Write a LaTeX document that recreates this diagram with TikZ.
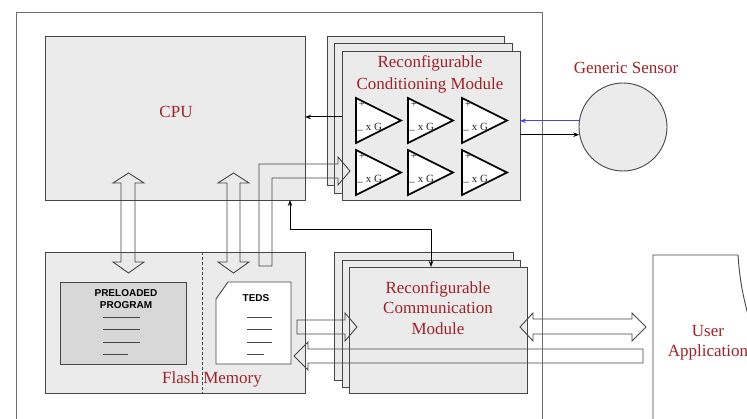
\documentclass[tikz,border=0pt]{standalone}
\usepackage{fontspec}
\setmainfont{Liberation Serif}
\newfontfamily\sansfam{Liberation Sans}
\usetikzlibrary{arrows.meta,calc}
\definecolor{redtxt}{RGB}{158,34,40}
\definecolor{linec}{RGB}{70,70,70}
\definecolor{framec}{RGB}{110,110,110}
\definecolor{boxfill}{RGB}{235,235,235}
\definecolor{progfill}{RGB}{216,216,216}
\definecolor{bluearr}{RGB}{70,70,210}
\begin{document}
\begin{tikzpicture}[x=1pt,y=-1pt,
  frame/.style={draw=framec,line width=1pt},
  box/.style={draw=linec,fill=boxfill,line width=0.9pt,inner sep=0pt,outer sep=0pt,anchor=north west},
  lbl/.style={text=redtxt,font=\fontsize{17}{21}\selectfont,align=center,inner sep=0pt},
  hollow/.style={draw=linec,line width=0.9pt,line join=miter},
  amp/.style={draw=black,line width=1.6pt,fill=white,line join=miter},
  amptxt/.style={font=\fontsize{11}{11}\selectfont,inner sep=0pt,text=black!85},
  thinarr/.style={draw=black,line width=1pt,{Stealth[length=6pt,width=4.5pt]}-{Stealth[length=6pt,width=4.5pt]}},
  onearr/.style={line width=1pt,-{Stealth[length=6pt,width=4.5pt]}},
  sanslbl/.style={font=\sansfam\bfseries\fontsize{10}{12}\selectfont,align=center,inner sep=0pt},
  docline/.style={draw=linec,line width=1pt}]
\useasboundingbox (0,0) rectangle (747,419);
\clip (0,0) rectangle (747,419);
\fill[white] (0,0) rectangle (747,419);

% outer frame
\draw[frame] (16,430) -- (16,13) -- (542,13) -- (542,430);

% CPU
\node[box,minimum width=260pt,minimum height=164pt] (cpu) at (45,36) {};
\node[lbl] (cpulbl) at (176,112) {CPU};

% Conditioning module stack
\node[box,minimum width=177pt,minimum height=149pt] (condc) at (327,36) {};
\node[box,minimum width=178pt,minimum height=150pt] (condb) at (334,43) {};
\node[box,minimum width=178pt,minimum height=149pt] (conda) at (342,51) {};
\node[lbl,font=\fontsize{17}{22}\selectfont] (condlbl) at (430,74) {Reconfigurable\\Conditioning Module};

% amplifiers
\foreach \x in {356,408,462}{
  \foreach \y in {98,150}{
    \draw[amp] (\x,\y) -- ++(0,45) -- ++(45,-22.5) -- cycle;
    \node[amptxt] (plus-\x-\y) at (\x+6,\y+6) {+};
    \node[amptxt] (gain-\x-\y) at (\x+18,\y+29) {x G};
    \node[amptxt] (minus-\x-\y) at (\x+4,\y+32) {\_};
  }
}

% sensor
\node[circle,draw=linec,fill=boxfill,line width=0.9pt,minimum size=88pt,inner sep=0pt] (sensor) at (623,127) {};
\node[lbl] (sensorlbl) at (626,68) {Generic Sensor};

% Flash memory
\node[box,minimum width=260pt,minimum height=141pt] (flash) at (45,252) {};
\draw[draw=linec,line width=0.9pt,densely dashed] (202,252) -- (202,393);
\node[lbl] (flashlbl) at (212,379) {Flash Memory};

% preloaded program
\node[box,fill=progfill,minimum width=126pt,minimum height=82pt] (prog) at (60,282) {};
\node[sanslbl] (proglbl) at (126,299) {PRELOADED\\PROGRAM};
\draw[docline] (103,318) -- (140,318) (103,330) -- (140,330) (103,343) -- (140,343) (103,355) -- (128,355);

% TEDS document
\draw[draw=linec,fill=white,line width=0.9pt,line join=miter] (216,299) -- (228,282) -- (291,282) -- (291,364) -- (216,364) -- cycle;
\node[sanslbl] (tedslbl) at (256,298) {TEDS};
\draw[docline] (247,318) -- (272,318) (247,330) -- (272,330) (247,343) -- (272,343) (247,355) -- (264,355);

% Communication module stack
\node[box,minimum width=179pt,minimum height=128pt] (commc) at (334,252) {};
\node[box,minimum width=178pt,minimum height=127pt] (commb) at (342,260) {};
\node[box,minimum width=178pt,minimum height=126pt] (comma) at (349,267) {};
\node[lbl,font=\fontsize{17}{20.5}\selectfont] (commlbl) at (438,308) {Reconfigurable\\Communication\\Module};

% User application
\draw[draw=linec,fill=white,line width=0.9pt] (653,430) -- (653,255) -- (738,255) .. controls (740,285) and (744,300) .. (752,330);
\node[lbl,font=\fontsize{17}{20}\selectfont] (userlbl) at (708,343) {User\\Application};

% hollow arrows CPU <-> Flash
\draw[hollow] (121,183) -- (113,183) -- (128.5,173) -- (144,183) -- (135,183) -- (135,262) -- (144,262) -- (128.5,273) -- (113,262) -- (121,262) -- cycle;
\draw[hollow] (227,183) -- (218,183) -- (233.5,173) -- (249,183) -- (240,183) -- (240,262) -- (249,262) -- (233.5,273) -- (218,262) -- (227,262) -- cycle;

% L-shaped hollow arrow Flash -> Conditioning
\draw[hollow] (259,266) -- (259,164) -- (338,164) -- (338,157) -- (350,171) -- (338,185) -- (338,178) -- (272,178) -- (272,266) -- cycle;

% TEDS -> Communication
\draw[hollow] (297,320) -- (345,320) -- (345,313) -- (357,327) -- (345,341) -- (345,334) -- (297,334) -- cycle;

% User -> Flash
\draw[hollow] (643,349) -- (308,349) -- (308,342) -- (294,356) -- (308,370) -- (308,363) -- (643,363) -- cycle;

% Communication <-> User
\draw[hollow] (533,319) -- (632,319) -- (632,313) -- (646,327) -- (632,341) -- (632,334) -- (533,334) -- (533,341) -- (520,327) -- (533,313) -- cycle;

% thin arrows
\draw[thinarr] ([xshift=-15pt]cpu.south east) -- ++(0,30) -| ([xshift=82pt]comma.north west);
\draw[onearr,draw=black] ([yshift=8.5pt]conda.west) -- ([yshift=8.5pt]conda.west -| cpu.east);
\draw[onearr,draw=bluearr] (sensor.172) -- (sensor.172 -| conda.east);
\draw[onearr,draw=black] (sensor.190 -| conda.east) -- (sensor.190);
\end{tikzpicture}
\end{document}
